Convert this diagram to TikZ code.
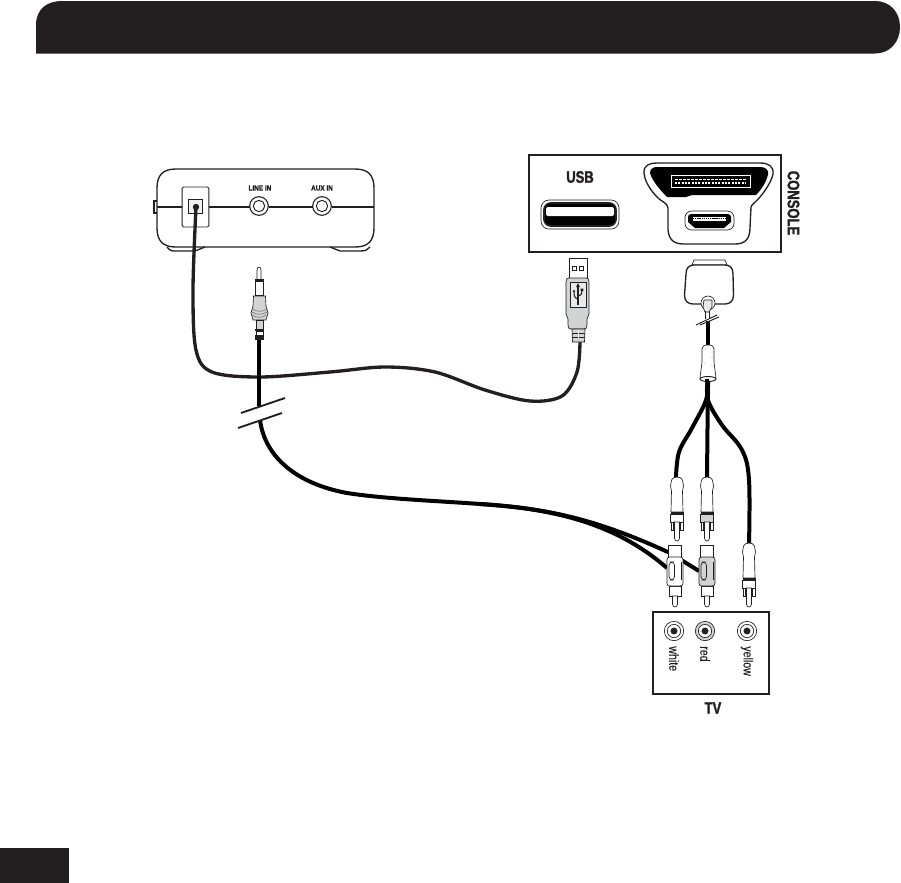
\documentclass[tikz,border=0pt]{standalone}
\usepackage{fontspec}
\setmainfont[FakeStretch=0.8]{Liberation Sans}
\newfontfamily\heavy[FakeStretch=0.78,FakeBold=1.6]{Liberation Sans Bold}
\newfontfamily\smallheavy[FakeStretch=0.86,FakeBold=0.6]{Liberation Sans Bold}
\newfontfamily\narrowtv[FakeStretch=0.8,FakeBold=0.25]{Liberation Sans}
\definecolor{ink}{HTML}{231F20}
\definecolor{midgrey}{HTML}{D2D3D5}
\definecolor{lightgrey}{HTML}{E8E9EA}
\tikzset{
  thin line/.style={draw=ink,line width=0.5pt},
  med line/.style={draw=ink,line width=1pt},
  box line/.style={draw=ink,line width=1.5pt},
  cable/.style={draw=ink,line width=2.5pt,line cap=round},
  thick cable/.style={draw=black,line width=3pt,line cap=round},
  slash/.style={draw=ink,line width=1.4pt},
  label small/.style={text=ink,font=\fontsize{5.6}{6}\smallheavy,inner sep=0pt},
  label big/.style={text=ink,font=\fontsize{12.5}{14}\heavy,inner sep=0pt},
  label tv/.style={text=ink,font=\fontsize{10}{12}\narrowtv,inner sep=0pt,rotate=-90,anchor=west},
}
% upper RCA plug: #1 centre x, #2 top y, #3 collar fill, #4 band width
\newcommand{\upperplug}[4]{
  \begin{scope}[shift={(#1,#2)}]
    \path[thin line,fill=white] (-5.5,3) .. controls (-4,-1) and (4,-1) .. (5.5,3)
      -- (6.5,9) -- (5.5,14) -- (6,35) -- (-6,35) -- (-5.5,14) -- (-6.5,9) -- cycle;
    \path[thin line,fill=#3] (-6.5,37) rectangle (6.5,45);
    \fill[ink] (-6.5,35) rectangle (6.5,37+#4);
    \path[thin line,fill=white] (-6,45) -- (6,45) -- (6,53) -- (3.5,53) -- (3.5,45) -- (-3.5,45) -- (-3.5,53) -- (-6,53) -- cycle;
    \path[thin line,fill=white] (-2.5,45) -- (2.5,45) -- (2.5,61) .. controls (2.5,65) and (-2.5,65) .. (-2.5,61) -- cycle;
  \end{scope}
}
% lower RCA plug: #1 centre x, #2 body fill
\newcommand{\lowerplug}[2]{
  \begin{scope}[shift={(#1,0)}]
    \path[thin line,fill=white] (-6.5,545) rectangle (6.5,558);
    \path[thin line,fill=white] (-5.5,586) rectangle (6,596);
    \path[thin line,fill=white] (-2.5,596) -- (2.5,596) -- (2.5,604) .. controls (2.5,608) and (-2.5,608) .. (-2.5,604) -- cycle;
    \path[thin line,fill=#2,rounded corners=2pt] (-8,557) rectangle (8,586);
    \path[thin line,fill=#2,rounded corners=2.6pt] (-6,562) rectangle (-0.5,580);
    \draw[thin line] (6.5,562) -- (6.5,580);
  \end{scope}
}
% round jack: #1 name, #2 position, #3 ring fill
\newcommand{\tvjack}[3]{
  \node[circle,thin line,fill=#3,minimum size=14.5pt,inner sep=0pt] (#1) at (#2) {};
  \node[circle,thin line,fill=white,minimum size=10pt,inner sep=0pt] at (#1) {};
  \node[circle,fill=ink,minimum size=5.2pt,inner sep=0pt] at (#1) {};
}
\begin{document}
\begin{tikzpicture}[x=0.75pt,y=-0.75pt]
\useasboundingbox (0,0) rectangle (901,883);
% header and page tab
\fill[ink] (36,53.5) -- (36,25) .. controls (36,9) and (47,1) .. (62,1) -- (875,1)
  .. controls (890,1) and (900,12) .. (900,27) .. controls (900,42) and (890,53.5) .. (875,53.5) -- cycle;
\fill[ink] (0,848) rectangle (69,883);

% named ends of the connectors
\coordinate (optical) at (196,207);
\coordinate (usbend) at (580,342);
\coordinate (jackend) at (259,340);
\coordinate (breakA) at (259,406);
\coordinate (breakB) at (260,420);
\coordinate (whiteIn) at (667,568);
\coordinate (redIn) at (699,571);
\coordinate (ferrite) at (708,379);
\coordinate (upW) at (676,478);
\coordinate (upR) at (707,478);
\coordinate (upY) at (749,545);
\coordinate (split) at (480,504);

% game unit
\path[thin line,fill=white,line width=0.8pt] (154,201) rectangle (158,213);
\draw[med line,fill=white] (157,188) .. controls (157,175) and (163,169) .. (176,169)
  -- (355,169) .. controls (368,169) and (374,175) .. (374,188)
  -- (374,228) .. controls (374,241) and (368,247) .. (355,247)
  -- (176,247) .. controls (163,247) and (157,241) .. (157,228) -- cycle;
\draw[med line] (167,247) .. controls (170,251) and (172,251) .. (176,251) -- (195,251) -- (205,247);
\draw[med line] (330,247) -- (340,251) -- (360,251) .. controls (365,251) and (368,250) .. (370,247);
\draw[draw=ink,line width=1.2pt] (157,207) -- (182,207) (209,207) -- (250,207) (269,207) -- (313,207) (332,207) -- (374,207);
\node[draw=ink,line width=0.7pt,fill=white,minimum width=20pt,minimum height=30pt,inner sep=0pt,rounded corners=1pt] (optbox) at (195.5,207) {};
\node[draw=ink,line width=0.7pt,fill=midgrey!35,minimum width=11pt,minimum height=11pt,inner sep=0pt] (optport) at (195.5,206.5) {};
\fill[ink] (optical) circle (3.2);
\node[circle,draw=ink,line width=0.8pt,fill=white,minimum size=14pt,inner sep=0pt] (linein) at (259,206) {};
\node[circle,draw=ink,line width=0.7pt,fill=white,minimum size=8.5pt,inner sep=0pt] at (linein) {};
\node[circle,draw=ink,line width=0.8pt,fill=white,minimum size=14pt,inner sep=0pt] (auxin) at (322,206) {};
\node[circle,draw=ink,line width=0.7pt,fill=white,minimum size=8.5pt,inner sep=0pt] at (auxin) {};
\node[label small] (lineinlabel) at (260,188) {LINE IN};
\node[label small] (auxinlabel) at (322,188) {AUX IN};

% console panel
\node[box line,minimum width=189pt,minimum height=72.5pt,inner sep=0pt] (console) at (654.5,203.5) {};
\node[label big] (usblabel) at (580,177) {USB};
\node[label big,rotate=-90] (consolelabel) at (793.5,203) {CONSOLE};
\path[thin line,fill=white,rounded corners=6pt] (541,200) rectangle (619,229);
\path[draw=ink,line width=1.2pt,fill=black,rounded corners=5pt] (544,203) rectangle (616,226);
\fill[white,rounded corners=1.5pt] (546,207) rectangle (614,216);
% multi-out port
\path[med line,fill=white] (644,172) .. controls (644,165) and (650,163) .. (657,163)
  -- (760,163) .. controls (768,163) and (774,166) .. (773,174)
  .. controls (772,180) and (766,190) .. (760,197) .. controls (755,203) and (752,204) .. (751,207)
  -- (750,228) .. controls (750,240) and (744,244) .. (735,244)
  -- (684,244) .. controls (674,244) and (669,240) .. (668,230)
  -- (668,208) .. controls (667,203) and (664,203) .. (658,198)
  .. controls (650,190) and (644,180) .. (644,172) -- cycle;
\fill[black] (650,173) .. controls (650,169) and (653,167) .. (657,167) -- (760,167)
  .. controls (766,167) and (769,170) .. (768,175) .. controls (766,182) and (762,189) .. (756,195)
  -- (692,195) -- (686,197) -- (667,197) .. controls (659,189) and (652,180) .. (650,173) -- cycle;
\path[draw=white,line width=0.5pt] (671,175) rectangle (750,187);
\draw[white,line width=1pt,dash pattern=on 1.6pt off 0.9pt] (675,183) -- (746,183);
\draw[white,line width=0.6pt,dash pattern=on 2pt off 1pt] (675,179.5) -- (746,179.5);
\path[thin line,fill=white,rounded corners=5pt] (685,211) rectangle (734,230);
\fill[black] (692,214) -- (727,214) .. controls (730,214) and (731,215) .. (731,217)
  -- (731,222) -- (724,228) -- (695,228) -- (688,222) -- (688,217) .. controls (688,215) and (689,214) .. (692,214) -- cycle;
\fill[white] (693,217) rectangle (726,221);
\draw[black,line width=0.6pt,dash pattern=on 1pt off 0.6pt] (693,218) -- (726,218);

% TV panel
\node[box line,minimum width=87pt,minimum height=61.5pt,inner sep=0pt] (tv) at (711,653) {};
\tvjack{jackW}{674,631}{white}
\tvjack{jackR}{705,631}{midgrey}
\tvjack{jackY}{747,631}{white}
\node[label tv] (lw) at (674,646) {white};
\node[label tv] (lr) at (705,646) {red};
\node[label tv] (ly) at (747,646) {yellow};
\node[label big] (tvlabel) at (713,708) {TV};

% cables
\draw[cable] plot[smooth,tension=0.55] coordinates {(optical) (193,290) (196,350) (212,372) (260,377) (330,372) (385,367) (435,372) (485,390) (530,401) (562,396) (577,372) (usbend)};
\draw[draw=black,line width=2.4pt] (jackend) -- (breakA);
\draw[thick cable,line cap=butt] (breakB) .. controls (265,458) and (298,484) .. (347,493)
  .. controls (385,499) and (440,501) .. (split) .. controls (540,508) and (590,516) .. (670,553) -- (redIn);
\draw[thick cable,line cap=butt] (split) .. controls (540,508) and (610,518) .. (whiteIn);
\draw[thick cable] plot[smooth,tension=0.6] coordinates {(ferrite) (706,400) (692,428) (679,452) (upW)};
\draw[thick cable] (ferrite) -- (upR);
\draw[thick cable] plot[smooth,tension=0.6] coordinates {(ferrite) (708,400) (722,425) (742,450) (749,480) (upY)};

% break marks of the long cable
\draw[slash] (241,413) -- (285,398);
\draw[slash] (238,428) -- (282,413);

% RCA plugs
\upperplug{677}{477}{white}{0.8}
\upperplug{707}{477}{midgrey}{1.2}
\upperplug{749}{543}{white}{1.2}
\lowerplug{675}{white}
\lowerplug{707}{midgrey}

% audio jack
\path[thin line,fill=white] (257,280) -- (257,270) .. controls (257,266) and (261,266) .. (261,270) -- (261,280) -- cycle;
\path[thin line,fill=white] (255,295) -- (255,279) -- (263,279) -- (263,295) -- cycle;
\fill[ink] (255,280) rectangle (263,281.5);
\path[thin line,fill=midgrey] (253.5,296) -- (265.5,296) -- (266,306) -- (268,313) -- (266,320) -- (253,320) -- (251,313) -- (253,306) -- cycle;
\draw[ink!60,line width=0.5pt] (252,309) .. controls (256,312) and (263,312) .. (267,309)
  (252,312) .. controls (256,315) and (263,315) .. (267,312)
  (252,315) .. controls (256,318) and (263,318) .. (266,315);
\path[thin line,fill=midgrey] (256,320) rectangle (263,329);
\fill[ink] (255,329) rectangle (264,331);
\path[thin line,fill=white] (256,331) rectangle (263,335);
\fill[ink] (255,335) rectangle (264,340);

% USB plug
\path[thin line,fill=white] (569,278) -- (569,258.5) -- (587,258.5) -- (587,278) -- cycle;
\draw[thin line] (572,266) rectangle (576,270) (579,266) rectangle (583,270);
\path[thin line,fill=midgrey] (566,282) .. controls (566,279) and (567,278) .. (569,278) -- (586,278) .. controls (588,278) and (589,279) .. (589,282)
  -- (589,314) -- (587,319) -- (587,325) .. controls (587,328) and (586,329) .. (584,329) -- (571,329) .. controls (569,329) and (568,328) .. (568,325) -- (568,319) -- (566,314) -- cycle;
\path[thin line,fill=lightgrey] (570,282) rectangle (586,307);
\draw[ink,line width=1pt] (578,285) -- (578,305);
\fill[ink] (578,283) -- (580,287) -- (576,287) -- cycle;
\draw[ink,line width=0.8pt] (578,299) .. controls (574,298) and (574,295) .. (574,291) (578,296) .. controls (582,295) and (582,293) .. (582,290);
\fill[ink] (574,291) circle (1.2) (580.7,288.5) rectangle (583.3,291);
\path[thin line,fill=midgrey] (572,329) -- (585,329) -- (584.5,342) -- (572.5,342) -- cycle;
\draw[ink,line width=0.7pt] (572,333) -- (585,333) (572,337) -- (585,337);
\draw[white,line width=0.8pt] (578.5,330) -- (578.5,338);

% console cable plug
\path[thin line,fill=white] (692,265) -- (694,260) -- (725,260) -- (727,265) -- cycle;
\path[med line,fill=white] (686,274) .. controls (686,268) and (689,265) .. (694,265) -- (725,265) .. controls (730,265) and (733,268) .. (733,274)
  -- (733.5,295) .. controls (733.5,301) and (730,304) .. (725,304) -- (693,304) .. controls (688,304) and (684.5,301) .. (684.5,295) -- cycle;
\path[thin line,fill=white] (708,303) circle (7);
\path[thin line,fill=lightgrey] (704,300) -- (712,300) -- (712,307) -- (709,312) -- (705,312) -- (703,307) -- cycle;
\draw[ink,line width=0.7pt] (705,311) -- (705,319) (709.5,311) -- (709.5,319);
\draw[thick cable,line cap=butt] (708,321) -- (708,345);
\draw[draw=ink,line width=0.7pt] (696,325) -- (717,315);
\draw[draw=ink,line width=0.7pt] (700,325) -- (719,317);
\path[thin line,fill=white] (702,349) .. controls (702,346) and (704,345) .. (708,345) .. controls (712,345) and (714,346) .. (714,349)
  -- (714,362) -- (716,378) -- (700,378) -- (702,362) -- cycle;
\fill[ink] (705.5,349) circle (0.3) (712,352) circle (0.3) (712,358) circle (0.3) (705,363) circle (0.3) (712,366) circle (0.3);
\path[draw=ink,line width=0.7pt,fill=white] (ferrite) ellipse (8 and 2.5);
\draw[thick cable,line cap=butt] (707,379) -- (708,388);
\end{tikzpicture}
\end{document}
